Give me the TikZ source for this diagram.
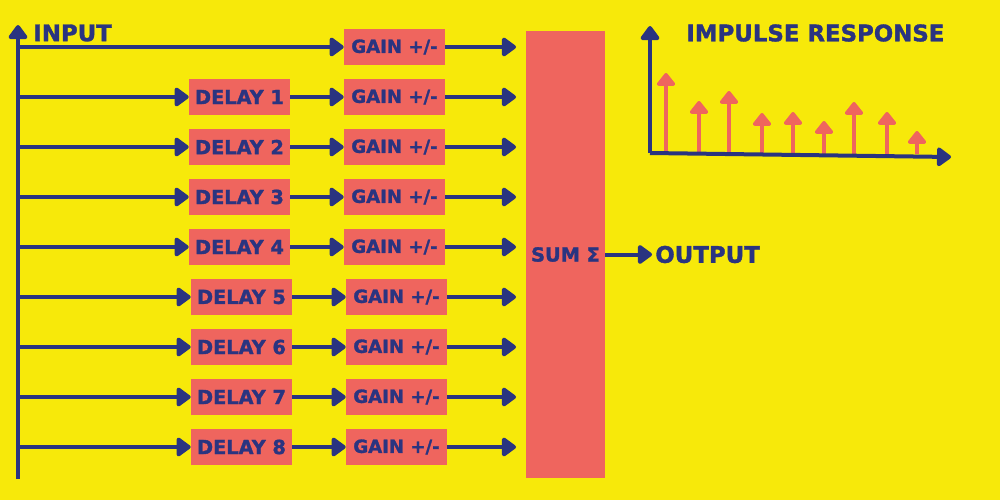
\documentclass[tikz,border=0pt]{standalone}
\usepackage{fontspec}
\setmainfont{DejaVu Sans}[BoldFeatures={FakeBold=1.5}]
\usepackage{tikz}
\usetikzlibrary{arrows.meta}
\definecolor{bg}{RGB}{247,233,10}
\definecolor{navy}{RGB}{42,52,128}
\definecolor{coral}{RGB}{239,101,94}

\begin{document}
\begin{tikzpicture}[x=0.2mm,y=-0.2mm,
              every node/.style={font=\bfseries\fontsize{11}{12}\selectfont,text=navy},
              box/.style={fill=coral,minimum width=20.2mm,minimum height=7.2mm,inner sep=0pt},
              gainbox/.style={box,font=\bfseries\fontsize{10.3}{12}\selectfont},
              wire/.style={draw=navy,line width=0.8mm,-{Triangle[length=3.1mm,width=4.3mm,round]}},
              stem/.style={draw=coral,line width=0.8mm,-{Triangle[length=2.8mm,width=4.2mm,round]}},
              title/.style={font=\bfseries\fontsize{13}{15}\selectfont,anchor=west,inner sep=0pt}]
  \fill[bg] (0,0) rectangle (1000,500);
  \useasboundingbox (0,0) rectangle (1000,500);
  % input bus
  \coordinate (inbot) at (18,479);
  \coordinate (intop) at (18,25);
  \draw[wire] (inbot) -- (intop);
  \node[title] (input) at (33,33) {INPUT};
  % taps, gains
  \foreach \i in {0,...,8}{
    \pgfmathsetmacro\yy{47+50*\i}
    \pgfmathsetmacro\dx{\i>4 ? 2 : 0}
    \coordinate (tap\i) at (18,\yy);
    \coordinate (s\i) at (516,\yy);
    \node[gainbox] (gain\i) at (394.5+\dx,\yy) {GAIN +/-};
    \draw[wire] (gain\i) -- (s\i);
  }
  \draw[wire] (tap0) -- (gain0);
  % delays
  \foreach \i in {1,...,8}{
    \pgfmathsetmacro\yy{47+50*\i}
    \pgfmathsetmacro\dx{\i>4 ? 2 : 0}
    \node[box] (delay\i) at (239.5+\dx,\yy) {DELAY \i};
    \draw[wire] (tap\i) -- (delay\i);
    \draw[wire] (delay\i) -- (gain\i);
  }
  % sum
  \node[box,minimum width=15.8mm,minimum height=89.4mm] (sum) at (565.5,254.5) {SUM Σ};
  \node[title,inner xsep=0.6mm] (out) at (652,254.5) {OUTPUT};
  \draw[wire] (sum) -- (out);
  % impulse response
  \coordinate (orig) at (650,153);
  \coordinate (ytop) at (650,26);
  \coordinate (xend) at (951,157);
  \foreach \x/\h in {666/73,699/101,729/91,762/113,793/112,824/121,854/102,887/112,917/131}
    \draw[stem] (\x,154) -- (\x,\h);
  \draw[wire] (orig) -- (ytop);
  \draw[wire] (orig) -- (xend);
  \node[title] (irtitle) at (686,33) {IMPULSE RESPONSE};
\end{tikzpicture}
\end{document}
